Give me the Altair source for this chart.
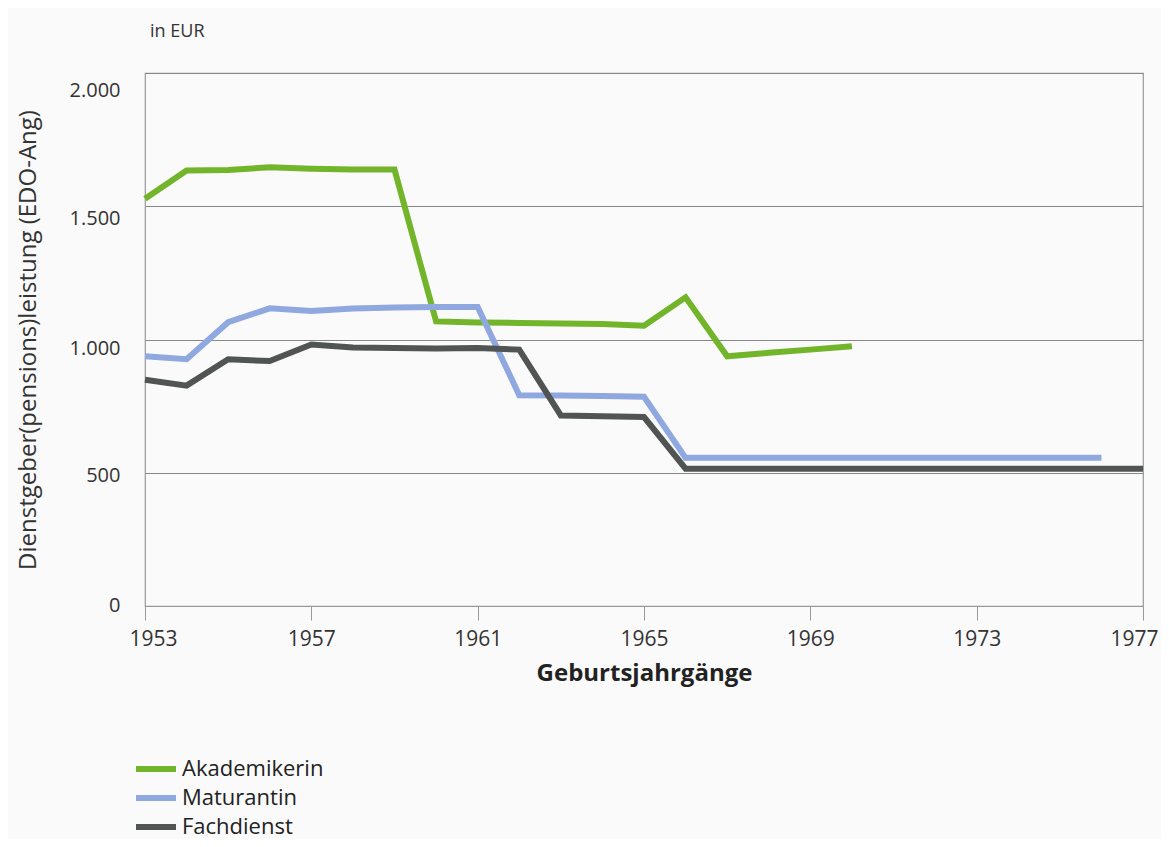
import altair as alt
import pandas as pd

years_aka = list(range(1953, 1971))
aka = [1528, 1634, 1636, 1646, 1641, 1638, 1638, 1068, 1064, 1062, 1060, 1058, 1052, 1158, 937, 950, 962, 975]

years_mat = list(range(1953, 1977))
mat = [937, 926, 1065, 1117, 1107, 1116, 1120, 1122, 1122, 791, 790, 788, 785,
       556, 556, 556, 556, 556, 556, 556, 556, 556, 556, 556]

years_fach = list(range(1953, 1978))
fach = [849, 827, 926, 919, 981, 970, 968, 966, 968, 962, 715, 712, 709,
        515, 515, 515, 515, 515, 515, 515, 515, 515, 515, 515, 515]

series = ["Akademikerin", "Maturantin", "Fachdienst"]
colors = ["#72b52a", "#8fa8e0", "#505553"]
x_ticks = [1953, 1957, 1961, 1965, 1969, 1973, 1977]
y_ticks = [0, 500, 1000, 1500, 2000]

rows = []
for name, yrs, vals in [("Akademikerin", years_aka, aka),
                        ("Maturantin", years_mat, mat),
                        ("Fachdienst", years_fach, fach)]:
    for yr, v in zip(yrs, vals):
        rows.append({"Jahr": yr, "Wert": v, "Gruppe": name})
df = pd.DataFrame(rows)

FONT = "Open Sans"

y_label_offset = {
    "condition": [
        {"test": "datum.value >= 2000", "value": 17},
        {"test": "datum.value >= 1500", "value": 12},
        {"test": "datum.value >= 1000", "value": 9},
        {"test": "datum.value >= 500", "value": 3},
    ],
    "value": -1,
}
x_label_offset = {
    "condition": [
        {"test": "datum.value <= 1953", "value": 8},
        {"test": "datum.value >= 1977", "value": -9},
    ],
    "value": 0,
}

chart = alt.Chart(df).mark_line(strokeWidth=6, strokeJoin="miter", strokeCap="butt").encode(
    x=alt.X("Jahr:Q",
            scale=alt.Scale(domain=[1953, 1977], nice=False, zero=False),
            axis=alt.Axis(values=x_ticks, format="d", grid=False,
                          title="Geburtsjahrgänge", titleFontWeight="bold",
                          titleFontSize=24, titleColor="#222", titleFont=FONT,
                          titleY=67, titleBaseline="middle",
                          labelFont=FONT, labelFontSize=21, labelColor="#333",
                          labelOffset=x_label_offset,
                          tickSize=14, tickColor="#999", domainColor="#999",
                          labelPadding=8, labelFlush=False)),
    y=alt.Y("Wert:Q",
            scale=alt.Scale(domain=[0, 2000], nice=False),
            axis=alt.Axis(values=y_ticks, grid=True, gridColor="#888", gridWidth=1,
                          ticks=False, domain=False,
                          labelExpr="replace(format(datum.value, ','), ',', '.')",
                          labelFont=FONT, labelFontSize=20, labelColor="#333",
                          labelPadding=25, labelOffset=y_label_offset,
                          title="Dienstgeber(pensions)leistung (EDO-Ang)",
                          titleFont=FONT, titleFontSize=24, titleFontWeight="normal",
                          titleColor="#333", titleX=-117, titleY=266.5,
                          titleAngle=-90, titleAlign="center", titleBaseline="middle")),
    color=alt.Color("Gruppe:N",
                    scale=alt.Scale(domain=series, range=colors),
                    sort=series,
                    legend=alt.Legend(title=None, orient="none", legendX=-2, legendY=683,
                                      symbolType="M-2,0H2", symbolSize=400,
                                      symbolStrokeWidth=6, symbolFillColor="transparent",
                                      labelFont=FONT, labelFontSize=22, labelColor="#222",
                                      labelOffset=13, rowPadding=4, padding=0,
                                      direction="vertical")),
).properties(
    width=998, height=533,
    title=alt.TitleParams("in EUR", anchor="start", frame="group", font=FONT, fontSize=18,
                          fontWeight="normal", color="#333", offset=32, dx=5),
    autosize=alt.AutoSizeParams(type="none"),
    padding={"left": 137, "top": 65, "right": 18, "bottom": 233},
    background="#fafafa",
).configure_view(stroke="#999", strokeWidth=1.2)

chart.save("out.html", embed_options={"renderer": "svg", "actions": False})
